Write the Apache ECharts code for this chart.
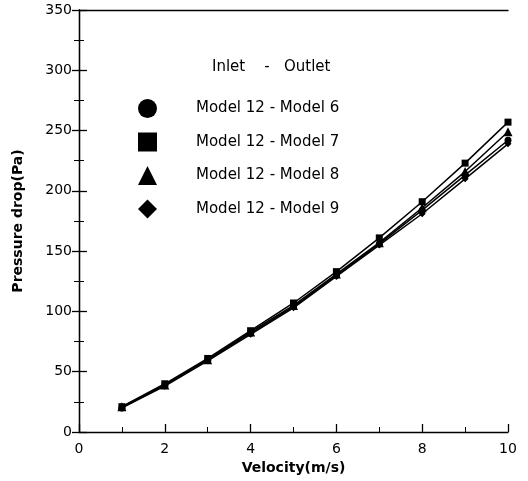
<!DOCTYPE html>
<html><head><meta charset="utf-8">
<script src="https://cdn.jsdelivr.net/npm/echarts@6/dist/echarts.min.js"></script>
<style>html,body{margin:0;padding:0;background:#fff}#c{width:528px;height:481px}</style>
</head><body><div id="c"></div>
<script>
var velocity = [1, 2, 3, 4, 5, 6, 7, 8, 9, 10];
var model6 = [20, 39, 60, 82, 104, 130, 156, 184, 213, 242];
var model7 = [21, 40, 61, 84, 107, 133, 161, 191, 223, 257];
var model8 = [21, 39, 60, 83, 105, 131, 157, 186, 216, 249];
var model9 = [20, 38, 59, 81, 103, 129, 155, 181, 210, 239];
var seriesNames = ['Model 12 - Model 6', 'Model 12 - Model 7', 'Model 12 - Model 8', 'Model 12 - Model 9'];
var seriesSymbols = ['circle', 'rect', 'triangle', 'diamond'];
var seriesData = [model6, model7, model8, model9];
var xTicks = [0, 2, 4, 6, 8, 10];
var yTicks = [0, 50, 100, 150, 200, 250, 300, 350];

var font = 'DejaVu Sans, sans-serif';
var chart = echarts.init(document.getElementById('c'));
var series = seriesData.map(function (vals, i) {
  return {
    name: seriesNames[i], type: 'line',
    data: vals.map(function (v, j) { return [velocity[j], v]; }),
    symbol: seriesSymbols[i], symbolSize: seriesSymbols[i] === 'triangle' ? 9 : 7,
    lineStyle: { color: '#000', width: 1.5 },
    itemStyle: { color: '#000' },
    z: 3
  };
});
chart.setOption({
  animation: false,
  backgroundColor: '#fff',
  title: {
    text: 'Inlet    -   Outlet', left: 207, top: 55,
    textStyle: { fontFamily: font, fontSize: 15, fontWeight: 'normal', color: '#000' }
  },
  legend: {
    orient: 'vertical', left: 133, top: 94,
    itemWidth: 19, itemHeight: 19, itemGap: 14.5,
    data: seriesNames.map(function (n, i) { return { name: n, icon: seriesSymbols[i] }; }),
    textStyle: { fontFamily: font, fontSize: 15, color: '#000', padding: [0, 0, 0, 34] },
    itemStyle: { color: '#000' }
  },
  grid: { left: 79, right: 20, top: 10, bottom: 49 },
  xAxis: [{
    type: 'value', min: 0, max: 10, interval: 2,
    name: 'Velocity(m/s)', nameLocation: 'middle', nameGap: 29,
    nameTextStyle: { fontFamily: font, fontSize: 14, fontWeight: 'bold', color: '#000' },
    axisLine: { lineStyle: { color: '#000', width: 1.3 } },
    axisTick: { inside: true, length: 8, lineStyle: { color: '#000', width: 1.3 } },
    minorTick: { show: true, splitNumber: 2, length: 5, lineStyle: { color: '#000' } },
    axisLabel: { fontFamily: font, fontSize: 14, color: '#000', margin: 10,
      formatter: function (v) { return xTicks.indexOf(v) >= 0 ? String(v) : ''; } },
    splitLine: { show: false }
  }, {
    type: 'value', min: 0, max: 10, interval: 2, position: 'top',
    axisLine: { show: true, onZero: false, lineStyle: { color: '#000', width: 1.3 } },
    axisTick: { show: false }, axisLabel: { show: false }, splitLine: { show: false }
  }],
  yAxis: [{
    type: 'value', min: 0, max: 350, interval: 50,
    name: 'Pressure drop(Pa)', nameLocation: 'middle', nameGap: 54,
    nameTextStyle: { fontFamily: font, fontSize: 14, fontWeight: 'bold', color: '#000' },
    axisLine: { show: true, lineStyle: { color: '#000', width: 1.3 } },
    axisTick: { show: true, inside: true, length: 8, lineStyle: { color: '#000', width: 1.3 } },
    minorTick: { show: true, splitNumber: 2, length: 5, lineStyle: { color: '#000' } },
    axisLabel: { fontFamily: font, fontSize: 14, color: '#000', margin: 7,
      formatter: function (v) { return yTicks.indexOf(v) >= 0 ? String(v) : ''; } },
    splitLine: { show: false }
  }, {
    type: 'value', min: 0, max: 350, interval: 50, position: 'right',
    axisLine: { show: true, lineStyle: { color: '#000', width: 1.3 } },
    axisTick: { show: true, inside: true, length: 7, lineStyle: { color: '#000', width: 1.3 } },
    minorTick: { show: true, splitNumber: 2, length: 5, lineStyle: { color: '#000' } },
    axisLabel: { show: false }, splitLine: { show: false }
  }],
  series: series
});
</script></body></html>
